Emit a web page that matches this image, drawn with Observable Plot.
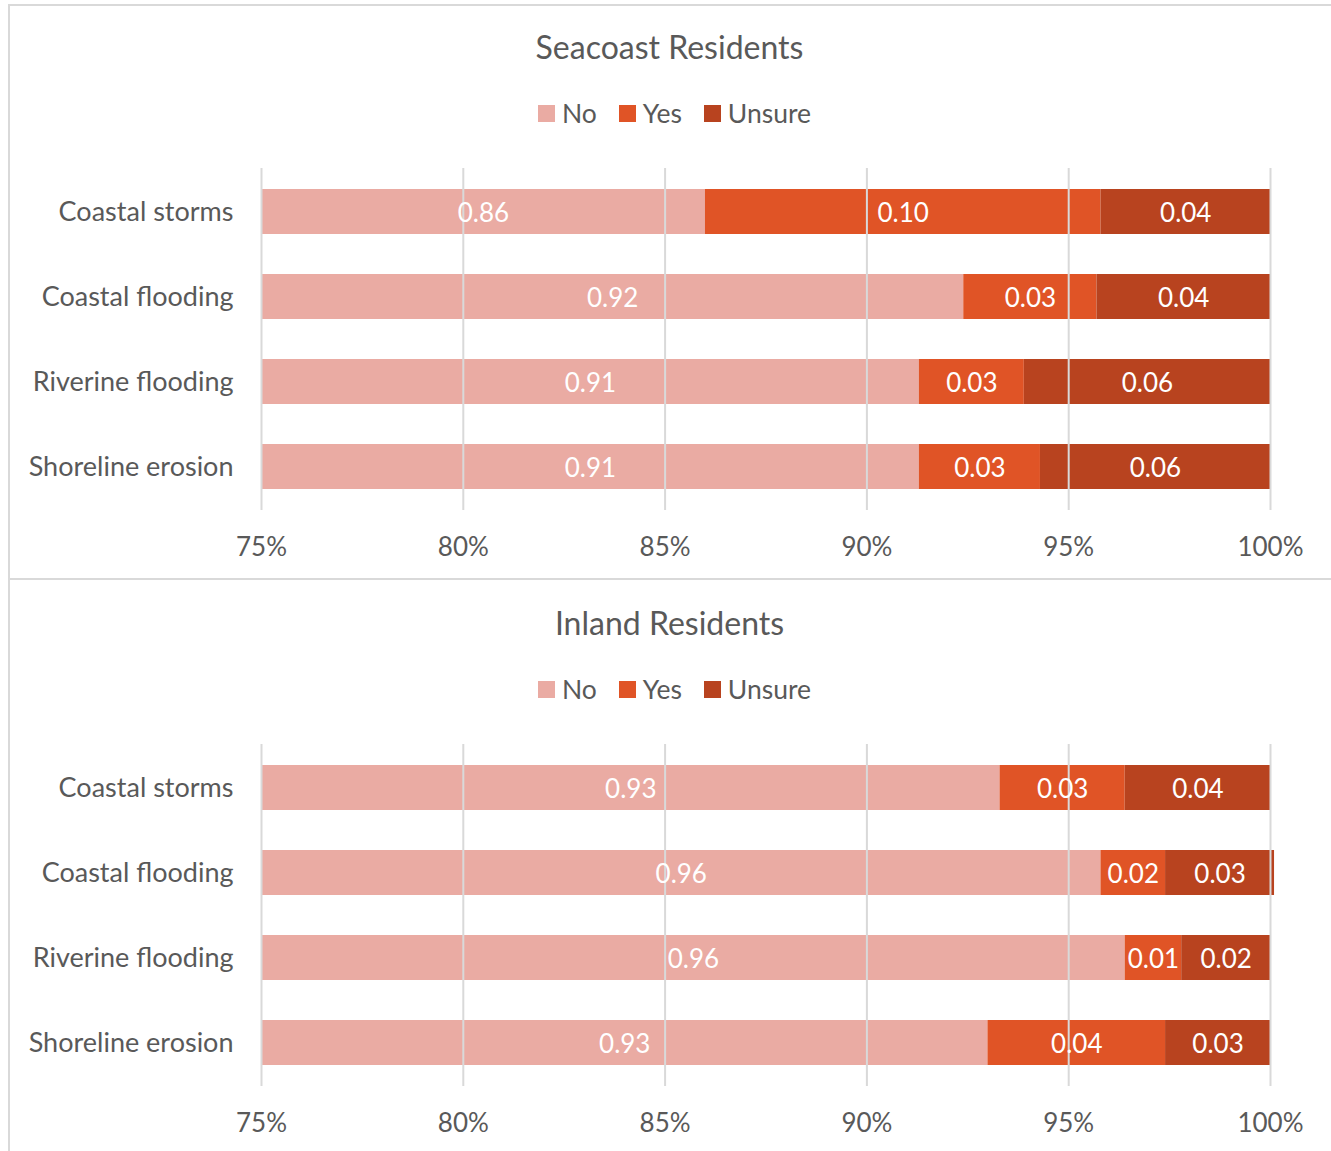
<!DOCTYPE html>
<html>
<head>
<meta charset="utf-8">
<script src="https://cdn.jsdelivr.net/npm/d3@7"></script>
<script src="https://cdn.jsdelivr.net/npm/@observablehq/plot@0.6"></script>
<style>
  html, body { margin: 0; padding: 0; background: #fff; }
  body { width: 1331px; height: 1151px; position: relative; overflow: hidden; font-family: Lato, "Open Sans", sans-serif; color: #595959; }
  .line { position: absolute; background: #d9d9d9; }
  .title { position: absolute; left: 8px; width: 1323px; text-align: center; font-size: 32px; line-height: 32px; }
  .legend { position: absolute; left: 13px; width: 1323px; display: flex; justify-content: center; align-items: center; font-size: 26.5px; line-height: 28px; }
  .legend .item { display: flex; align-items: center; margin: 0 11px; }
  .legend .sw { width: 17px; height: 17px; margin-right: 7px; }
  .chart { position: absolute; left: 8px; }
</style>
</head>
<body>
<div class="line" style="left:8px;top:4px;width:1323px;height:2px"></div>
<div class="line" style="left:8px;top:578px;width:1323px;height:2px"></div>
<div class="line" style="left:8px;top:4px;width:2px;height:1147px"></div>
<div id="root"></div>
<script>
// ---- data ----
const categories = ["Coastal storms", "Coastal flooding", "Riverine flooding", "Shoreline erosion"];
const responses = ["No", "Yes", "Unsure"];
const colors = ["#EAABA3", "#E05426", "#B8431F"];
const xTicks = [0.75, 0.80, 0.85, 0.90, 0.95, 1.00];

const seacoastNo     = [0.860, 0.924, 0.913, 0.913];
const seacoastYes    = [0.098, 0.033, 0.026, 0.030];
const seacoastUnsure = [0.042, 0.043, 0.061, 0.057];

const inlandNo     = [0.933, 0.958, 0.964, 0.930];
const inlandYes    = [0.031, 0.016, 0.014, 0.044];
const inlandUnsure = [0.036, 0.027, 0.022, 0.026];

const panels = [
  {title: "Seacoast Residents", series: [seacoastNo, seacoastYes, seacoastUnsure]},
  {title: "Inland Residents", series: [inlandNo, inlandYes, inlandUnsure]}
];

const root = document.getElementById("root");
const panelOffset = 576;

panels.forEach((p, pi) => {
  const off = pi * panelOffset;
  const t = document.createElement("div");
  t.className = "title";
  t.style.top = (31 + off) + "px";
  t.textContent = p.title;
  root.appendChild(t);
  const lg = document.createElement("div");
  lg.className = "legend";
  lg.style.top = (99 + off) + "px";
  responses.forEach((r, i) => {
    const it = document.createElement("div");
    it.className = "item";
    const sw = document.createElement("div");
    sw.className = "sw";
    sw.style.background = colors[i];
    const tx = document.createElement("span");
    tx.textContent = r;
    it.appendChild(sw); it.appendChild(tx);
    lg.appendChild(it);
  });
  root.appendChild(lg);

  const rows = [];
  categories.forEach((c, ci) => {
    let acc = 0;
    responses.forEach((r, ri) => {
      const v = p.series[ri][ci];
      const x1 = acc, x2 = acc + v;
      acc = x2;
      const vx1 = Math.max(x1, 0.75);
      rows.push({category: c, response: r, value: v, x1: vx1, x2: x2, mid: (vx1 + x2) / 2});
    });
  });

  const chart = Plot.plot({
    width: 1323,
    height: 430,
    marginLeft: 253,
    marginRight: 61,
    marginTop: 28,
    marginBottom: 60,
    style: {fontFamily: "Lato, 'Open Sans', sans-serif", fontSize: "26px", color: "#595959", background: "transparent"},
    x: {domain: [0.75, 1], ticks: xTicks, tickFormat: d => Math.round(d * 100) + "%", label: null},
    y: {domain: categories, padding: 0, label: null},
    color: {domain: responses, range: colors},
    marks: [
      Plot.barX(rows, {x1: "x1", x2: "x2", y: "category", fill: "response", insetTop: 20, insetBottom: 20}),
      Plot.ruleX(xTicks, {stroke: "#d9d9d9", strokeWidth: 2}),
      Plot.text(rows, {x: "mid", y: "category", text: d => d.value.toFixed(2), fill: "white", fontSize: 26, dy: 2}),
      Plot.axisX({ticks: xTicks, tickFormat: d => Math.round(d * 100) + "%", tickSize: 0, tickPadding: 27, fontSize: 26, label: null}),
      Plot.axisY({tickSize: 0, tickPadding: 28, fontSize: 27, label: null})
    ]
  });
  chart.classList.add("chart");
  chart.style.top = (140 + off) + "px";
  root.appendChild(chart);
});
</script>
</body>
</html>
